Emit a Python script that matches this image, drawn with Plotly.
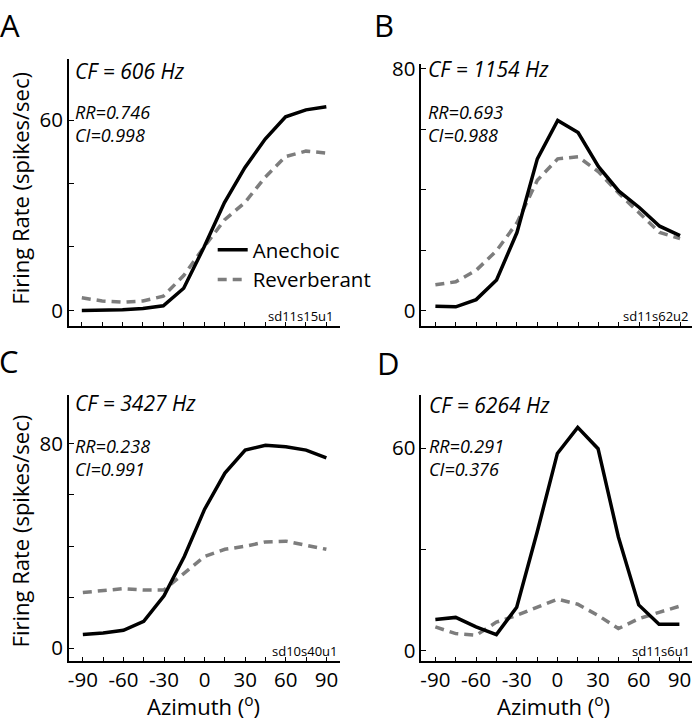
import plotly.graph_objects as go

# ---------------- data ----------------
azimuth = [-90, -75, -60, -45, -30, -15, 0, 15, 30, 45, 60, 75, 90]

a_anechoic = [0.0, 0.0, 0.2, 0.6, 1.5, 7.0, 20.0, 34.0, 45.0, 54.0, 61.0, 63.2, 64.2]
a_reverb = [4.0, 3.0, 2.6, 3.0, 4.5, 11.0, 20.0, 28.5, 34.0, 42.0, 48.5, 50.2, 49.6]

b_anechoic = [1.4, 1.2, 3.6, 10.1, 25.8, 50.2, 62.9, 58.9, 47.6, 39.5, 34.1, 27.9, 24.8]
b_reverb = [8.5, 9.5, 13.3, 19.8, 29.0, 43.1, 50.2, 50.9, 45.9, 38.8, 32.3, 25.8, 23.8]

c_anechoic = [5.4, 6.0, 7.0, 10.5, 20.5, 35.9, 54.4, 68.5, 77.5, 79.4, 78.8, 77.5, 74.5]
c_reverb = [21.8, 22.4, 23.3, 22.8, 22.8, 29.4, 35.9, 38.7, 39.9, 41.6, 41.9, 40.3, 38.7]

d_anechoic = [9.3, 9.9, 7.1, 4.8, 12.9, 35.0, 58.4, 66.1, 59.8, 33.7, 13.6, 7.9, 7.9]
d_reverb = [7.1, 5.1, 4.6, 8.5, 10.5, 12.9, 15.3, 13.8, 10.5, 6.6, 9.5, 11.4, 13.2]

panel_letters = ["A", "B", "C", "D"]
cf_labels = ["CF = 606 Hz", "CF = 1154 Hz", "CF = 3427 Hz", "CF = 6264 Hz"]
rr_labels = ["RR=0.746", "RR=0.693", "RR=0.238", "RR=0.291"]
ci_labels = ["CI=0.998", "CI=0.988", "CI=0.991", "CI=0.376"]
unit_labels = ["sd11s15u1", "sd11s62u2", "sd10s40u1", "sd11s6u1"]

y_tickvals = [[0, 20, 40, 60], [0, 20, 40, 60, 80], [0, 20, 40, 60, 80], [0, 30, 60]]
y_ticktext = [["0", "", "", "60"], ["0", "", "", "", "80"], ["0", "", "", "", "80"], ["0", "", "60"]]
x_tickvals = azimuth
x_ticktext_labeled = ["-90", "", "-60", "", "-30", "", "0", "", "30", "", "60", "", "90"]
x_ticktext_blank = [""] * len(azimuth)

series_names = ["Anechoic", "Reverberant"]

# ---------------- layout helpers ----------------
W, H = 693, 720
FONT = "Open Sans"
BLACK = "#000000"
GRAY = "#7d7d7d"


def px(x):
    return x / W


def py(y):
    return 1 - y / H


boxes = [(68, 339, 50, 322), (421, 692, 55, 322), (68, 339, 392, 663), (421, 692, 392, 663)]
y_ranges = [[-4.95, 79.2], [-5.2, 81.6], [-5.0, 99.1], [-3.0, 75.7]]
x_ranges = [[-99.5, 99.7], [-100.3, 98.8], [-100.3, 99.7], [-100.3, 99.3]]

data_sets = [
    (a_anechoic, a_reverb),
    (b_anechoic, b_reverb),
    (c_anechoic, c_reverb),
    (d_anechoic, d_reverb),
]

fig = go.Figure()

for i, (anech, rev) in enumerate(data_sets):
    sfx = "" if i == 0 else str(i + 1)
    fig.add_trace(go.Scatter(
        x=azimuth, y=rev, mode="lines", name=series_names[1],
        line=dict(color=GRAY, width=3.5, dash="9px,6px"),
        xaxis="x" + sfx, yaxis="y" + sfx, showlegend=(i == 0),
        legendrank=2,
    ))
    fig.add_trace(go.Scatter(
        x=azimuth, y=anech, mode="lines", name=series_names[0],
        line=dict(color=BLACK, width=3.5),
        xaxis="x" + sfx, yaxis="y" + sfx, showlegend=(i == 0),
        legendrank=1,
    ))

axis_common = dict(
    showline=True, linecolor=BLACK, linewidth=1.5, showgrid=False, zeroline=False,
    ticks="inside", tickcolor=BLACK, tickwidth=1,
    tickfont=dict(family=FONT, size=20.5, color=BLACK),
)

layout_axes = {}
for i in range(4):
    l, r, t, b = boxes[i]
    sfx = "" if i == 0 else str(i + 1)
    layout_axes["xaxis" + sfx] = dict(
        axis_common, domain=[px(l), px(r)], range=x_ranges[i],
        anchor="y" + sfx, tickvals=x_tickvals,
        ticktext=x_ticktext_labeled if i >= 2 else x_ticktext_blank,
        ticklen=4,
    )
    layout_axes["yaxis" + sfx] = dict(
        axis_common, domain=[py(b), py(t)], range=y_ranges[i],
        anchor="x" + sfx, tickvals=y_tickvals[i], ticktext=y_ticktext[i],
        ticklen=5,
    )

fig.update_layout(**layout_axes)

annotations = []
letter_pos = [(-3, 15), (372, 15), (-4, 357), (375, 359)]
cf_pos = [(72, 62), (426, 60), (72, 400), (427, 402)]
stats_pos = [(72, 115.5), (426, 116), (72, 456), (427, 456)]
unit_pos = [(334, 312), (690, 312), (338, 653), (692, 653)]

for i in range(4):
    annotations.append(dict(
        x=px(letter_pos[i][0]), y=py(letter_pos[i][1]), xref="paper", yref="paper",
        text=panel_letters[i], showarrow=False, xanchor="left", yanchor="middle",
        font=dict(family=FONT, size=31, color=BLACK),
    ))
    annotations.append(dict(
        x=px(cf_pos[i][0]), y=py(cf_pos[i][1]), xref="paper", yref="paper",
        text="<i>" + cf_labels[i] + "</i>", showarrow=False, xanchor="left", yanchor="middle",
        font=dict(family=FONT, size=21, color=BLACK),
    ))
    annotations.append(dict(
        x=px(stats_pos[i][0]), y=py(stats_pos[i][1]), xref="paper", yref="paper",
        text="<i>" + rr_labels[i] + "</i><br><i>" + ci_labels[i] + "</i>",
        showarrow=False, xanchor="left", yanchor="middle", align="left",
        font=dict(family=FONT, size=18, color=BLACK),
    ))
    annotations.append(dict(
        x=px(unit_pos[i][0]), y=py(unit_pos[i][1]), xref="paper", yref="paper",
        text=unit_labels[i], showarrow=False, xanchor="right", yanchor="middle",
        font=dict(family=FONT, size=13, color=BLACK),
    ))

for (xp, yp) in [(19, 181), (19, 530)]:
    annotations.append(dict(
        x=px(xp), y=py(yp), xref="paper", yref="paper",
        text="Firing Rate (spikes/sec)", textangle=-90, showarrow=False,
        xanchor="center", yanchor="middle",
        font=dict(family=FONT, size=22, color=BLACK),
    ))
for (xp, yp) in [(203, 708), (553, 708)]:
    annotations.append(dict(
        x=px(xp), y=py(yp), xref="paper", yref="paper",
        text="Azimuth (<sup>o</sup>)", showarrow=False,
        xanchor="center", yanchor="middle",
        font=dict(family=FONT, size=22, color=BLACK),
    ))

fig.update_layout(
    width=W, height=H,
    margin=dict(l=0, r=0, t=0, b=0),
    paper_bgcolor="white", plot_bgcolor="white",
    annotations=annotations,
    showlegend=True,
    legend=dict(
        x=px(212), y=py(224), xanchor="left", yanchor="top",
        bgcolor="rgba(0,0,0,0)", borderwidth=0,
        font=dict(family=FONT, size=20.5, color=BLACK),
        traceorder="normal", tracegroupgap=0,
    ),
)

fig.write_html(
    "out.html",
    config={"displayModeBar": False},
    post_script="document.body.style.margin='0';document.body.style.padding='0';",
)
